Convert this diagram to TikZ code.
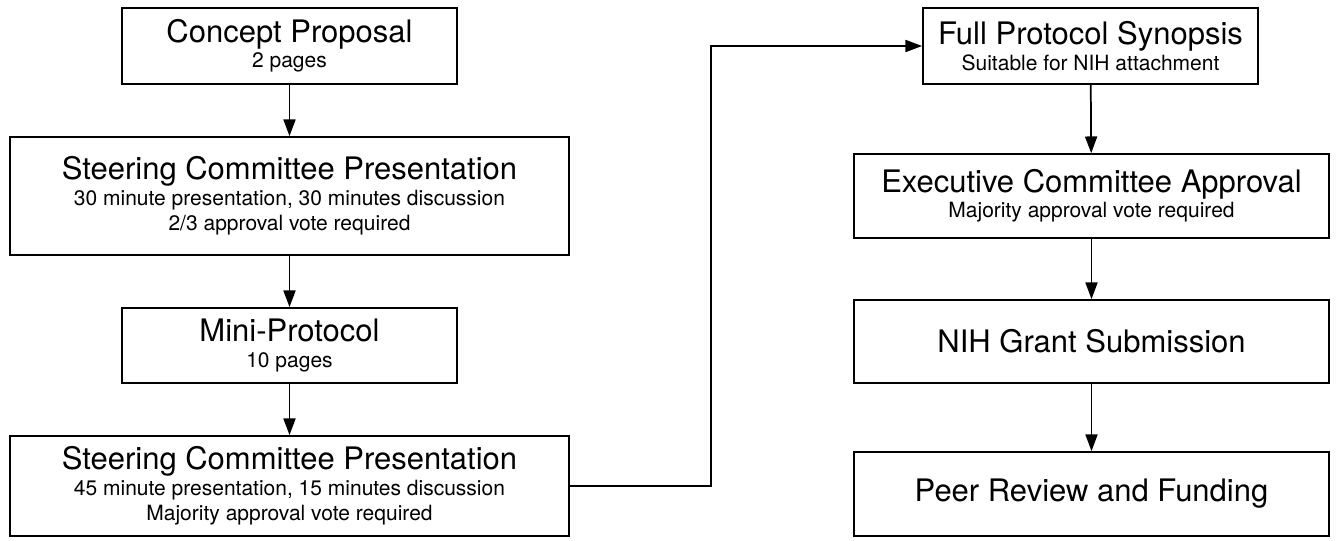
\documentclass[tikz,border=0pt]{standalone}
\usepackage{fontspec}
\setmainfont{TeX Gyre Heros}
\usetikzlibrary{arrows.meta}
\begin{document}
\begin{tikzpicture}[x=0.75pt,y=-0.75pt,
  box/.style={draw=black, line width=1.3pt, rectangle, align=center, inner sep=0pt,
    font=\fontsize{15.75}{19}\selectfont},
  narrowbox/.style={box, minimum width=251.25pt, minimum height=57pt},
  widebox/.style={box, minimum width=419.25pt},
  rightbox/.style={box, minimum width=356.25pt},
  arr/.style={line width=1.3pt, -{Triangle[length=12.5pt,width=9pt]}}
]
\newcommand{\ttl}[1]{{\fontsize{23.25}{19}\selectfont #1}}
\useasboundingbox (0,0) rectangle (1336,540);

\node[narrowbox] (b1) at (289.5,46) {\ttl{Concept Proposal}\\2 pages};
\node[widebox, minimum height=88.5pt] (b2) at (289.5,196) {\ttl{Steering Committee Presentation}\\30 minute presentation, 30 minutes discussion\\2/3 approval vote required};
\node[narrowbox, minimum height=56.25pt] (b3) at (289.5,345.5) {\ttl{Mini-Protocol}\\10 pages};
\node[widebox, minimum height=75pt] (b4) at (289.5,486) {\ttl{Steering Committee Presentation}\\45 minute presentation, 15 minutes discussion\\Majority approval vote required};

\node[narrowbox] (b5) at (1090.5,46) {\ttl{Full Protocol Synopsis}\\Suitable for NIH attachment};
\node[rightbox, minimum height=63pt] (b6) at (1091.5,196) {\ttl{Executive Committee Approval}\\Majority approval vote required};
\node[rightbox, minimum height=62.25pt] (b7) at (1091.5,341.5) {\ttl{NIH Grant Submission}};
\node[rightbox, minimum height=63pt] (b8) at (1091.5,494) {\ttl{Peer Review and Funding}};

\coordinate (j) at (711,266);

\draw[arr] (b1) -- (b2);
\draw[arr] (b2) -- (b3);
\draw[arr] (b3) -- (b4);
\draw[arr] (b4.east) -| (j) |- (b5.west);
\draw[arr] (b5) -- (b6);
\draw[arr] (b6) -- (b7);
\draw[arr] (b7) -- (b8);
\end{tikzpicture}
\end{document}
